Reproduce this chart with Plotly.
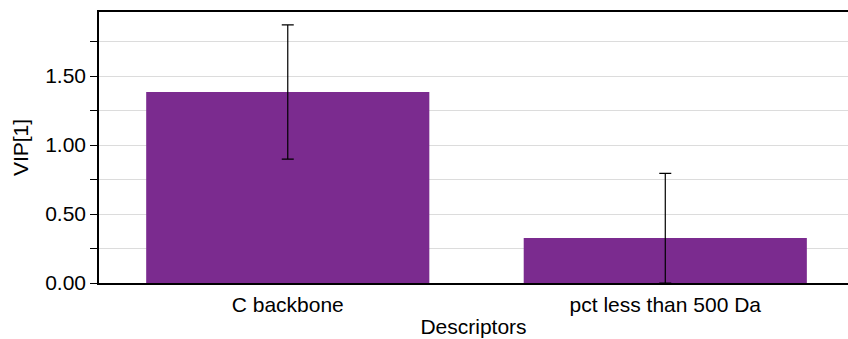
import plotly.graph_objects as go

# VIP[1] scores per descriptor with their uncertainty
descriptors = ["C backbone", "pct less than 500 Da"]
vip_values = [1.384, 0.326]
vip_errors = [0.486, 0.469]

# lower whiskers stop at zero
lower_errors = [min(e, v) for e, v in zip(vip_errors, vip_values)]

bar_color = "#7b2b8f"
font_family = "Liberation Sans, Arial, Helvetica, sans-serif"
font_size = 21

fig = go.Figure(
    go.Bar(
        x=descriptors,
        y=vip_values,
        marker=dict(color=bar_color, line=dict(width=0)),
        width=0.75,
        error_y=dict(
            type="data",
            symmetric=False,
            array=vip_errors,
            arrayminus=lower_errors,
            color="black",
            thickness=1.2,
            width=6,
        ),
    )
)

fig.update_layout(
    width=848,
    height=339,
    margin=dict(l=99, r=0, t=12, b=56),
    paper_bgcolor="white",
    plot_bgcolor="white",
    font=dict(family=font_family, size=font_size, color="black"),
    showlegend=False,
    bargap=0.25,
)

fig.update_xaxes(
    range=[-0.5, 1.484],
    showline=True,
    mirror=True,
    linecolor="black",
    linewidth=1.5,
    ticks="",
    ticklabelstandoff=2,
    showgrid=False,
    title=dict(text="Descriptors", font=dict(size=font_size), standoff=4),
    tickfont=dict(size=font_size),
)

fig.update_yaxes(
    range=[0, 1.964],
    tickvals=[0, 0.5, 1.0, 1.5],
    tickformat=".2f",
    ticks="outside",
    ticklen=7,
    tickcolor="black",
    showline=True,
    linecolor="black",
    linewidth=1.5,
    showgrid=True,
    gridcolor="#dcdcdc",
    gridwidth=1,
    zeroline=False,
    minor=dict(
        tickvals=[0.25, 0.75, 1.25, 1.75],
        ticks="outside",
        ticklen=7,
        tickcolor="black",
        showgrid=True,
        gridcolor="#dcdcdc",
        gridwidth=1,
    ),
    title=dict(text="VIP[1]", font=dict(size=font_size), standoff=11),
    tickfont=dict(size=font_size),
)

fig.write_html("out.html")
